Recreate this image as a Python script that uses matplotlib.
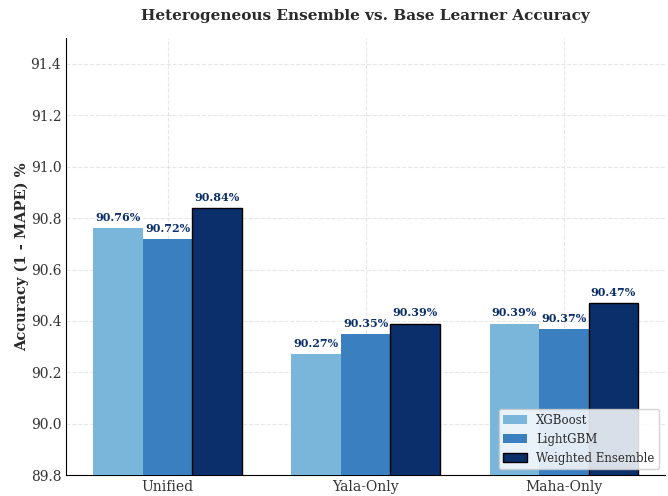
import numpy as np
import matplotlib
matplotlib.use('Agg')
import matplotlib.pyplot as plt

plt.rcParams['font.family'] = ['DejaVu Serif']
plt.rcParams['text.color'] = '#2a2a2a'
plt.rcParams['axes.labelcolor'] = '#2a2a2a'
plt.rcParams['xtick.color'] = '#333333'
plt.rcParams['ytick.color'] = '#333333'

categories = ['Unified', 'Yala-Only', 'Maha-Only']
models = ['XGBoost', 'LightGBM', 'Weighted Ensemble']
xgb = [90.76, 90.27, 90.39]
lgbm = [90.72, 90.35, 90.37]
ens = [90.84, 90.39, 90.47]

colors = ['#7ab5da', '#3a7fbf', '#0a2f6a']

fig = plt.figure(figsize=(6.68, 4.96), dpi=100)
ax = fig.add_axes([0.099, 0.042, 0.897, 0.881])

x = np.arange(len(categories))
w = 0.25
series = [xgb, lgbm, ens]
for i, (name, vals) in enumerate(zip(models, series)):
    if i == 2:
        bars = ax.bar(x + (i - 1) * w, vals, w, label=name, color=colors[i],
                      edgecolor='black', linewidth=1.0, zorder=3)
    else:
        bars = ax.bar(x + (i - 1) * w, vals, w, label=name, color=colors[i], zorder=3)
    for b, v in zip(bars, vals):
        ax.text(b.get_x() + b.get_width() / 2, v + 0.02, '{:.2f}%'.format(v),
                ha='center', va='bottom', fontsize=8, fontweight='bold',
                color='#0b2f6b', zorder=4)

ax.set_ylim(89.8, 91.5)
ax.set_xticks(x)
ax.set_xticklabels(categories, fontsize=10)
ax.set_yticks(np.arange(89.8, 91.41, 0.2))
ax.tick_params(axis='y', labelsize=10)
ax.tick_params(length=0)
ax.set_ylabel('Accuracy (1 - MAPE) %', fontsize=10.5, fontweight='bold', labelpad=1)
ax.set_title('Heterogeneous Ensemble vs. Base Learner Accuracy', fontsize=11,
             fontweight='bold', pad=13)
ax.grid(True, linestyle='--', color='#dddddd', alpha=0.7, linewidth=0.8, zorder=0)
ax.spines['top'].set_visible(False)
ax.spines['right'].set_visible(False)
ax.legend(loc='lower right', fontsize=8.5, framealpha=0.85)

fig.savefig('out.png', dpi=100)
